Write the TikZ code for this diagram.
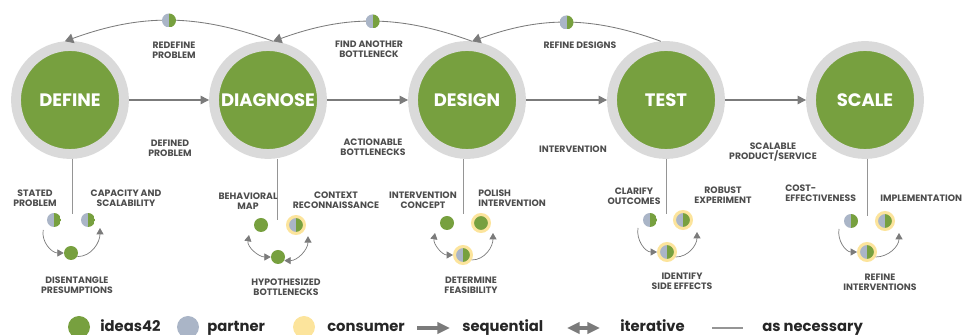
\documentclass[tikz,border=0pt]{standalone}
\usepackage{fontspec}
\setmainfont{Poppins}
\usepackage{tikz}
\usetikzlibrary{
  arrows.meta,
  positioning
}
\definecolor{ideascolor}{HTML}{77A03F}
\definecolor{partnercolor}{HTML}{AAB5C7}
\definecolor{consumercolor}{HTML}{FCE49C}
\definecolor{ringcolor}{HTML}{DADADA}
\definecolor{linkcolor}{HTML}{7B7B7B}
\definecolor{textcolor}{HTML}{4D4D4D}

\begin{document}
\begin{tikzpicture}[
  stage/.style={circle, fill=ideascolor, draw=ringcolor, line width=7pt,
                minimum size=2.7cm, inner sep=0pt, text=white,
                font=\fontsize{12.8}{14}\selectfont\bfseries},
  dot/.style={circle, inner sep=0pt, minimum size=0.35cm},
  ideas/.style={dot, fill=ideascolor},
  shared/.style={dot, path picture={
      \fill[partnercolor] (path picture bounding box.south west)
        rectangle (path picture bounding box.north);
      \fill[ideascolor] (path picture bounding box.south)
        rectangle (path picture bounding box.north east);}},
  consumer/.style={draw=consumercolor, line width=0.075cm, minimum size=0.425cm},
  lbl/.style={font=\fontsize{6.6}{7.2}\selectfont\bfseries, text=textcolor,
              align=center, inner sep=0pt},
  keytext/.style={font=\fontsize{10.5}{12}\selectfont\bfseries, text=black!85,
                  anchor=base west, inner sep=0pt},
  flow/.style={-{Triangle[length=6pt,width=6pt]}, linkcolor, line width=0.8pt},
  iterarc/.style={-{Triangle[length=6pt,width=7pt]}, linkcolor, line width=0.6pt},
  cyc/.style={-{Triangle[length=4.5pt,width=5pt]}, linkcolor, line width=0.5pt},
  cycboth/.style={{Triangle[length=4.5pt,width=5pt]}-{Triangle[length=4.5pt,width=5pt]},
                  linkcolor, line width=0.5pt},
  stem/.style={linkcolor!80, line width=0.6pt},
]
  \useasboundingbox (0,0) rectangle (24.15,8.375);

  % Stages
  \node[stage] (define)   at (1.75, 5.875)  {DEFINE};
  \node[stage] (diagnose) at (6.70, 5.875)  {DIAGNOSE};
  \node[stage] (design)   at (11.675, 5.875) {DESIGN};
  \node[stage] (test)     at (16.65, 5.875) {TEST};
  \node[stage] (scale)    at (21.625, 5.875) {SCALE};

  \draw[flow] (define) -- (diagnose);
  \draw[flow] (diagnose) -- (design);
  \draw[flow] (design) -- (test);
  \draw[flow] (test) -- (scale);

  \node[lbl] at (4.25, 4.675)  {DEFINED\\PROBLEM};
  \node[lbl] at (9.325, 4.7)   {ACTIONABLE\\BOTTLENECKS};
  \node[lbl] at (14.325, 4.65) {INTERVENTION};
  \node[lbl] at (19.325, 4.575) {SCALABLE\\PRODUCT/SERVICE};

  % Going back
  \draw[iterarc] (diagnose.85) to[out=160, in=20]
    node[shared] (redefine) {} (define.95);
  \draw[iterarc] (design.85) to[out=160, in=20]
    node[shared] (another) {} (diagnose.85);
  \draw[iterarc] (test.95) to[out=160, in=20]
    node[shared] (refine) {} (design.85);

  \node[lbl] at (4.35, 7.125)  {REDEFINE\\PROBLEM};
  \node[lbl] at (9.225, 7.15)  {FIND ANOTHER\\BOTTLENECK};
  \node[lbl] at (14.5, 7.25)   {REFINE DESIGNS};

  % Define cycle
  \coordinate (dfstem) at (1.8, 3.025);
  \draw[stem] (dfstem |- define.south) -- (dfstem);
  \node[shared] (stated)   at (1.35, 2.875) {};
  \node[shared] (capacity) at (2.2, 2.875)  {};
  \node[ideas]  (presume)  at (1.775, 2.05) {};
  \draw[cyc] ([shift={(-0.27,-0.25)}]stated.center) to[out=-100, in=180] (presume.west);
  \draw[cyc] (presume.-30) to[out=0, in=-90] ([shift={(0.3,-0.2)}]capacity.center);
  \node[lbl] at (0.875, 3.41) {STATED\\PROBLEM};
  \node[lbl] at (3.15, 3.41)  {CAPACITY AND\\SCALABILITY};
  \node[lbl] at (1.925, 1.25) {DISENTANGLE\\PRESUMPTIONS};

  % Diagnose cycle
  \coordinate (dgstem) at (6.925, 2.875);
  \draw[stem] (dgstem |- diagnose.south) -- (dgstem);
  \node[ideas]           (behavior) at (6.525, 2.75) {};
  \node[shared,consumer] (context)  at (7.4, 2.75)   {};
  \node[ideas]           (hypo)     at (6.95, 1.95)  {};
  \draw[cycboth] ([shift={(-0.3,-0.25)}]behavior.center) to[out=-100, in=180] (hypo.west);
  \draw[cycboth] (hypo.-30) to[out=0, in=-90] ([shift={(0.3,-0.28)}]context.center);
  \node[lbl] at (6.2, 3.35)  {BEHAVIORAL\\MAP};
  \node[lbl] at (8.4, 3.36)  {CONTEXT\\RECONNAISSANCE};
  \node[lbl] at (7.15, 1.2)  {HYPOTHESIZED\\BOTTLENECKS};

  % Design cycle
  \coordinate (dsstem) at (11.575, 3.025);
  \draw[stem] (dsstem |- design.south) -- (dsstem);
  \node[ideas]           (concept)  at (11.175, 2.8) {};
  \node[ideas,consumer]  (polish)   at (12.025, 2.8) {};
  \node[shared,consumer] (feasible) at (11.575, 2.0) {};
  \draw[cycboth] ([shift={(-0.3,-0.25)}]concept.center) to[out=-100, in=180] (feasible.west);
  \draw[cyc] (feasible.-30) to[out=0, in=-90] ([shift={(0.3,-0.25)}]polish.center);
  \node[lbl] at (10.575, 3.375) {INTERVENTION\\CONCEPT};
  \node[lbl, anchor=west, align=left] at (11.95, 3.41) {POLISH\\INTERVENTION};
  \node[lbl] at (11.775, 1.25) {DETERMINE\\FEASIBILITY};

  % Test cycle
  \coordinate (tsstem) at (16.65, 3.025);
  \draw[stem] (tsstem |- test.south) -- (tsstem);
  \node[shared]          (clarify) at (16.25, 2.875)  {};
  \node[shared,consumer] (robust)  at (17.075, 2.875) {};
  \node[shared,consumer] (side)    at (16.675, 2.075) {};
  \draw[cyc] ([shift={(-0.3,-0.2)}]clarify.center) to[out=-100, in=180] (side.west);
  \draw[cyc] (side.-30) to[out=0, in=-90] ([shift={(0.35,-0.3)}]robust.center);
  \node[lbl] at (15.85, 3.475) {CLARIFY\\OUTCOMES};
  \node[lbl] at (18.075, 3.5)  {ROBUST\\EXPERIMENT};
  \node[lbl] at (17.05, 1.35)  {IDENTIFY\\SIDE EFFECTS};

  % Scale cycle
  \coordinate (scstem) at (21.675, 2.975);
  \draw[stem] (scstem |- scale.south) -- (scstem);
  \node[shared]          (cost)   at (21.275, 2.85)  {};
  \node[shared,consumer] (implem) at (22.125, 2.85)  {};
  \node[shared,consumer] (rfine)  at (21.675, 2.075) {};
  \draw[cyc] ([shift={(-0.3,-0.2)}]cost.center) to[out=-100, in=180] (rfine.west);
  \draw[cyc] (rfine.-30) to[out=0, in=-90] ([shift={(0.35,-0.3)}]implem.center);
  \node[lbl, anchor=west, align=left] at (19.625, 3.55) {COST-\\EFFECTIVENESS};
  \node[lbl, anchor=west] at (22.0, 3.425) {IMPLEMENTATION};
  \node[lbl] at (22.0, 1.325) {REFINE\\INTERVENTIONS};

  % Key
  \node[dot, fill=ideascolor, minimum size=0.55cm]    (keyideas)    at (1.975, 0.2) {};
  \node[dot, fill=partnercolor, minimum size=0.55cm]  (keypartner)  at (4.7, 0.2)   {};
  \node[dot, fill=consumercolor, minimum size=0.55cm] (keyconsumer) at (7.6, 0.2)   {};
  \node[keytext] at (2.5, 0.075)   {ideas42};
  \node[keytext] at (5.175, 0.075) {partner};
  \node[keytext] at (8.175, 0.075) {consumer};
  \coordinate (seqa) at (10.425, 0.175);
  \coordinate (seqb) at (11.25, 0.175);
  \draw[-{Triangle[length=9pt,width=8pt]}, linkcolor, line width=2.2pt] (seqa) -- (seqb);
  \node[keytext] at (11.55, 0.075) {sequential};
  \coordinate (itera) at (14.175, 0.175);
  \coordinate (iterb) at (15.0, 0.175);
  \draw[{Triangle[length=9pt,width=8pt]}-{Triangle[length=9pt,width=8pt]},
        linkcolor, line width=2.2pt] (itera) -- (iterb);
  \node[keytext] at (15.5, 0.075) {iterative};
  \coordinate (nec1) at (17.8, 0.175);
  \coordinate (nec2) at (18.575, 0.175);
  \draw[linkcolor!80, line width=2pt] (nec1) -- (nec2);
  \node[keytext] at (19.05, 0.075) {as necessary};

\end{tikzpicture}
\end{document}
